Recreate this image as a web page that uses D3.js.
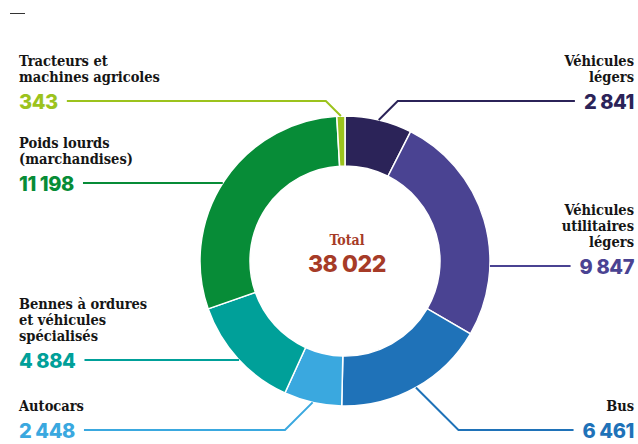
<!DOCTYPE html>
<html>
<head>
<meta charset="utf-8">
<script src="https://cdn.jsdelivr.net/npm/d3@7"></script>
<style>
    body { margin: 0; background: #fff; }
    .lab { font-family: "DejaVu Serif Condensed", "DejaVu Serif", serif; font-weight: bold; font-size: 14.5px; fill: #151515; }
    .num { font-family: Inter, "Liberation Sans", sans-serif; font-weight: 800; font-size: 20px; letter-spacing: -0.4px; }
</style>
</head>
<body>
<script>
(function(){

    //chart data, clockwise from the top
    var categories = ["Véhicules légers", "Véhicules utilitaires légers", "Bus", "Autocars",
        "Bennes à ordures et véhicules spécialisés", "Poids lourds (marchandises)", "Tracteurs et machines agricoles"];
    var labelLines = [["Véhicules", "légers"], ["Véhicules", "utilitaires", "légers"], ["Bus"], ["Autocars"],
        ["Bennes à ordures", "et véhicules", "spécialisés"], ["Poids lourds", "(marchandises)"], ["Tracteurs et", "machines agricoles"]];
    var values = [2841, 9847, 6461, 2448, 4884, 11198, 343];
    var colors = ["#2b2358", "#4a4392", "#1f72b8", "#3aa8df", "#00a099", "#078c37", "#9cc31d"];
    var totalTitle = "Total";

    //label placement (layout, not data)
    var labelSide = ["right", "right", "right", "left", "left", "left", "left"];
    var leaderY = [101, 266, 430, 430, 360, 183, 101];

    var width = 638, height = 444;
    var cx = 345, cy = 261, outerR = 145, innerR = 95;
    var leftX = 19, rightX = 634;

    var fmt = d3.formatLocale({decimal: ",", thousands: "\u00a0", grouping: [3], currency: ["", " €"]}).format(",d");

    var svg = d3.select("body").append("svg")
        .attr("width", width)
        .attr("height", height);

    //little dash top left
    svg.append("line")
        .attr("x1", 10).attr("x2", 25)
        .attr("y1", 13.5).attr("y2", 13.5)
        .attr("stroke", "#333").attr("stroke-width", 1);

    var color = d3.scaleOrdinal().domain(categories).range(colors);

    var pie = d3.pie().sort(null).value(function(d){ return d.value; });
    var arc = d3.arc().innerRadius(innerR).outerRadius(outerR);

    var rows = categories.map(function(c, i){
        return {name: c, value: values[i], lines: labelLines[i], side: labelSide[i], ly: leaderY[i]};
    });
    var arcs = pie(rows);

    var g = svg.append("g").attr("transform", "translate(" + cx + "," + cy + ")");

    g.selectAll(".slice")
        .data(arcs)
        .enter()
        .append("path")
        .attr("class", "slice")
        .attr("d", arc)
        .attr("fill", function(d){ return color(d.data.name); })
        .attr("stroke", "#fff")
        .attr("stroke-width", 1.5);

    //total in the middle
    g.append("text")
        .attr("text-anchor", "middle")
        .attr("x", 2).attr("y", -16)
        .attr("class", "lab")
        .style("font-size", "14px")
        .style("fill", "#a63b27")
        .text(totalTitle);
    g.append("text")
        .attr("text-anchor", "middle")
        .attr("x", 2).attr("y", 11)
        .attr("class", "num")
        .style("font-size", "23px")
        .style("fill", "#a63b27")
        .text(fmt(d3.sum(values)));

    //labels and leader lines
    arcs.forEach(function(d){
        var r = d.data, c = color(r.name);
        var right = r.side == "right";
        var x = right ? rightX : leftX;
        var anchor = right ? "end" : "start";

        var txt = svg.append("text")
            .attr("class", "lab")
            .attr("text-anchor", anchor);
        var n = r.lines.length;
        r.lines.forEach(function(s, k){
            txt.append("tspan")
                .attr("x", x)
                .attr("y", r.ly - 19.5 - (n - 1 - k) * 16)
                .text(s);
        });

        var num = svg.append("text")
            .attr("class", "num")
            .attr("text-anchor", anchor)
            .attr("x", x)
            .attr("y", r.ly + 8)
            .style("fill", c)
            .text(fmt(r.value));
        var numW = num.node().getComputedTextLength();

        //where the leader meets the ring
        var pts;
        var dy = r.ly - cy;
        var hit = null;
        if (Math.abs(dy) < outerR){
            var dx = Math.sqrt(outerR * outerR - dy * dy) * (right ? 1 : -1);
            var ang = Math.atan2(dx, -dy);
            if (ang < 0) ang += 2 * Math.PI;
            if (ang >= d.startAngle && ang <= d.endAngle) hit = [cx + dx, r.ly];
        }
        var lineEnd = right ? x - numW - 9 : x + numW + 9;
        if (hit){
            pts = [hit, [lineEnd, r.ly]];
        } else {
            //leave the ring at the middle of the slice, then 45 degrees to the label row
            var mid = (d.startAngle + d.endAngle) / 2;
            var ax = cx + outerR * Math.sin(mid), ay = cy - outerR * Math.cos(mid);
            var ex = ax + Math.abs(r.ly - ay) * (right ? 1 : -1);
            pts = [[ax, ay], [ex, r.ly], [lineEnd, r.ly]];
        }

        svg.append("path")
            .attr("d", d3.line()(pts))
            .attr("fill", "none")
            .attr("stroke", c)
            .attr("stroke-width", 2);
    });

})();
</script>
</body>
</html>
